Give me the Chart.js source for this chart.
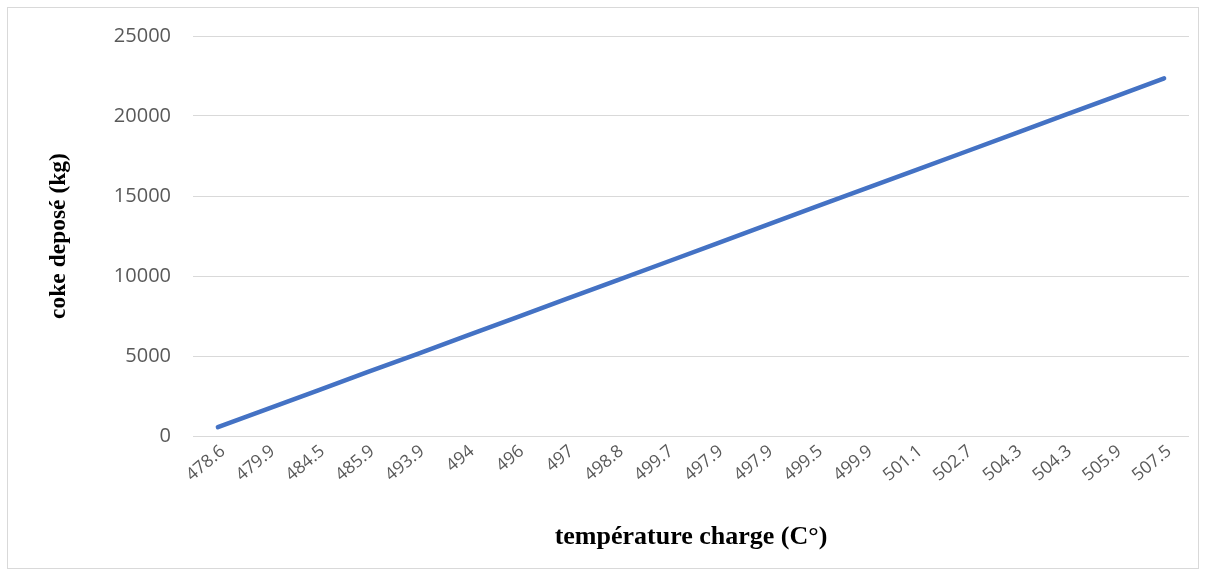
<!DOCTYPE html>
<html>
<head>
<meta charset="utf-8">
<script src="https://cdn.jsdelivr.net/npm/chart.js@4/dist/chart.umd.min.js"></script>
<style>
  html, body { margin: 0; padding: 0; background: #ffffff; }
  #wrap { position: relative; width: 1207px; height: 577px; }
  #frame { position: absolute; left: 7px; top: 7px; width: 1192px; height: 562px; border: 1px solid #d9d9d9; box-sizing: border-box; }
  #chart { position: absolute; left: 0; top: 0; }
</style>
</head>
<body>
<div id="wrap">
  <div id="frame"></div>
  <canvas id="chart" width="1207" height="577"></canvas>
</div>
<script>
// Feed temperature (°C) per run, in run order
const temperatures = ['478.6', '479.9', '484.5', '485.9', '493.9', '494', '496', '497', '498.8', '499.7',
                      '497.9', '497.9', '499.5', '499.9', '501.1', '502.7', '504.3', '504.3', '505.9', '507.5'];
// Deposited coke (kg)
const cokeDeposited = [550, 1700, 2840, 3990, 5120, 6270, 7420, 8570, 9710, 10860,
                       12010, 13160, 14320, 15460, 16600, 17750, 18900, 20050, 21200, 22350];
// Value axis ticks
const yTicks = [0, 5000, 10000, 15000, 20000, 25000];

const gridGrey = '#d9d9d9';
const labelGrey = '#595959';

new Chart(document.getElementById('chart'), {
  type: 'line',
  data: {
    labels: temperatures,
    datasets: [{
      data: cokeDeposited,
      borderColor: '#4472C4',
      borderWidth: 4.5,
      borderCapStyle: 'round',
      borderJoinStyle: 'round',
      pointRadius: 0,
      pointHoverRadius: 0,
      tension: 0,
      fill: false
    }]
  },
  options: {
    responsive: false,
    animation: false,
    events: [],
    layout: { padding: { top: 36, right: 18, bottom: 0, left: 0 } },
    plugins: {
      legend: { display: false },
      tooltip: { enabled: false }
    },
    scales: {
      x: {
        type: 'category',
        offset: true,
        grid: { display: false, drawTicks: false },
        border: { display: false },
        ticks: {
          color: labelGrey,
          font: { family: 'Open Sans', size: 17.5 },
          minRotation: 40,
          maxRotation: 40,
          autoSkip: false,
          padding: 5,
          labelOffset: 5
        },
        title: {
          display: true,
          text: 'température charge (C°)',
          color: '#000000',
          font: { family: 'Liberation Serif', size: 26, weight: 'bold', lineHeight: 1.2 },
          padding: { top: 0, bottom: 24 }
        },
        afterFit: (scale) => { scale.height = 141; }
      },
      y: {
        min: yTicks[0],
        max: yTicks[yTicks.length - 1],
        afterBuildTicks: (scale) => { scale.ticks = yTicks.map(v => ({ value: v })); },
        grid: { color: gridGrey, lineWidth: 1, drawTicks: false },
        border: { display: false },
        ticks: {
          color: labelGrey,
          font: { family: 'Open Sans', size: 20 },
          padding: 22,
          callback: (value) => String(value)
        },
        title: {
          display: true,
          text: 'coke deposé (kg)',
          color: '#000000',
          font: { family: 'Liberation Serif', size: 23.5, weight: 'bold', lineHeight: 1.2 },
          padding: { top: 45, bottom: 0 }
        },
        afterFit: (scale) => { scale.width = 193; }
      }
    }
  }
});
</script>
</body>
</html>
